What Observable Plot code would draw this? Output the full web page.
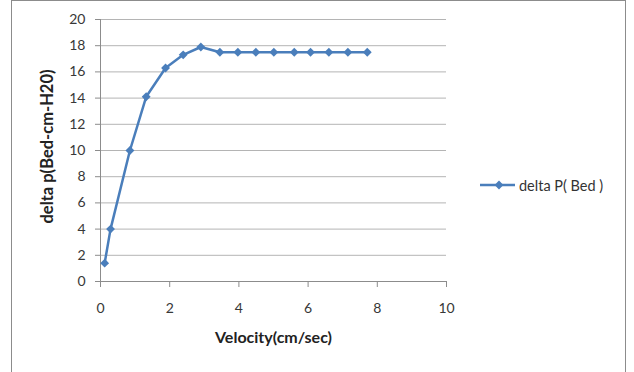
<!DOCTYPE html>
<html><head><meta charset="utf-8">
<script src="https://cdn.jsdelivr.net/npm/d3@7"></script>
<script src="https://cdn.jsdelivr.net/npm/@observablehq/plot@0.6"></script>
<style>
body{margin:0;background:#fff;font-family:Lato,sans-serif}
#wrap{position:relative;width:634px;height:372px;overflow:hidden}
#border{position:absolute;left:11px;top:0;width:613px;height:390px;border:1px solid #8c8c8c}
#chart{position:absolute;left:0;top:0}
#legend{position:absolute;left:480px;top:176px;height:18px;font-size:14.5px;color:#333;display:flex;align-items:center;white-space:nowrap}
</style></head><body>
<div id="wrap"><div id="border"></div><div id="chart"></div><div id="legend"></div></div>
<script>
const velocity = [0.12, 0.29, 0.85, 1.32, 1.88, 2.39, 2.90, 3.45, 3.97, 4.49, 5.01, 5.60, 6.07, 6.60, 7.15, 7.71];
const deltaP   = [1.4, 4.0, 10.0, 14.1, 16.3, 17.3, 17.9, 17.5, 17.5, 17.5, 17.5, 17.5, 17.5, 17.5, 17.5, 17.5];
const xTicks = [0, 2, 4, 6, 8, 10];
const yTicks = [0, 2, 4, 6, 8, 10, 12, 14, 16, 18, 20];
const seriesName = "delta P( Bed )";
const xLabel = "Velocity(cm/sec)";
const yLabel = "delta p(Bed-cm-H20)";

const data = velocity.map((v, i) => ({v, p: deltaP[i]}));
const blue = "#4a7ebb";

const plot = Plot.plot({
  width: 634, height: 372,
  marginLeft: 100, marginRight: 188, marginTop: 19, marginBottom: 91,
  style: {fontFamily: "Lato, sans-serif", fontSize: "14px", color: "#383838", background: "transparent", overflow: "visible"},
  x: {domain: [0, 10], ticks: xTicks},
  y: {domain: [0, 20], ticks: yTicks},
  marks: [
    Plot.gridY(yTicks.slice(1), {stroke: "#b4b4b4", strokeOpacity: 1}),
    Plot.ruleY([0], {stroke: "#8c8c8c"}),
    Plot.ruleX([0], {stroke: "#8c8c8c"}),
    Plot.axisY({ticks: yTicks, tickSize: 5, tickPadding: 10, stroke: "#8c8c8c", label: null}),
    Plot.axisX({ticks: xTicks, tickSize: 6, tickPadding: 16, stroke: "#8c8c8c", label: null}),
    Plot.text([yLabel], {frameAnchor: "left", textAnchor: "middle", dx: -53, dy: -4, rotate: -90, fontWeight: "bold", fontSize: 16.5, fill: "#222"}),
    Plot.text([xLabel], {frameAnchor: "bottom", dy: 61, fontWeight: "bold", fontSize: 16, fill: "#222"}),
    Plot.line(data, {x: "v", y: "p", stroke: blue, strokeWidth: 2.5}),
    Plot.dot(data, {x: "v", y: "p", symbol: "diamond2", fill: blue, r: 4})
  ]
});
document.getElementById("chart").append(plot);

const leg = d3.select("#legend");
const s = leg.append("svg").attr("width", 39).attr("height", 18);
s.append("line").attr("x1", 0).attr("x2", 35).attr("y1", 9).attr("y2", 9).attr("stroke", blue).attr("stroke-width", 2.5);
s.append("path").attr("d", d3.symbol(d3.symbolDiamond2, 50)()).attr("transform", "translate(19,9)").attr("fill", blue);
leg.append("span").text(seriesName);
</script>
</body></html>
